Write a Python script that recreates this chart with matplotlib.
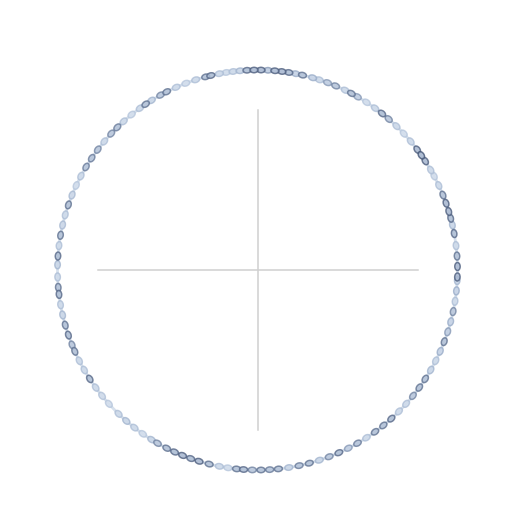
import numpy as np
import matplotlib
matplotlib.use("Agg")
import matplotlib.pyplot as plt
from matplotlib.colors import LinearSegmentedColormap
from matplotlib.patches import Ellipse

# node angles (degrees, counter-clockwise from east) and intensity values
angles = [-2, 1, 4, 7, 10.5, 13, 15, 17, 19.5, 22, 25, 28, 30, 33, 35, 37, 40, 43,
          46, 49, 51.5, 54, 57, 60, 62, 64, 67, 69.5, 72, 74, 77, 79, 81, 83, 85, 87, 89,
          91, 93, 95, 97, 99, 101, 103.5, 105, 108, 111, 114, 117, 119, 122, 124, 126, 129, 132, 134.5,
          137, 140, 143, 146, 149, 152, 155, 158, 161, 164, 167, 170, 173, 176, 178.5,
          182, 185, 187, 190, 193, 196, 199, 202, 204, 207, 210, 213, 216, 219, 222,
          226, 229, 232, 235, 238, 240, 243, 245.5, 248, 250.5, 253, 256, 259, 261.5, 264, 266, 268.5,
          271, 273.5, 276, 279, 282, 285, 288, 291, 294, 297, 300, 303, 306, 309, 312, 315,
          318, 321, 324, 327, 330, 333, 336, 339, 342, 345, 348, 351, 354, 357]
values = [0.9, 0.9, 0.8, 0.3, 0.85, 0.4, 0.85, 0.9, 0.9, 0.8, 0.3, 0.2, 0.3, 0.9, 0.95, 0.9, 0.3, 0.2,
          0.3, 0.7, 0.85, 0.3, 0.2, 0.6, 0.8, 0.3, 0.7, 0.6, 0.3, 0.5, 0.8, 0.5, 0.85, 0.9, 0.9, 0.6, 0.9,
          0.9, 0.85, 0.4, 0.3, 0.2, 0.3, 0.85, 0.8, 0.3, 0.2, 0.3, 0.8, 0.7, 0.4, 0.8, 0.3, 0.2, 0.3, 0.75,
          0.7, 0.3, 0.7, 0.75, 0.75, 0.3, 0.2, 0.35, 0.8, 0.3, 0.35, 0.8, 0.3, 0.85, 0.4,
          0.3, 0.8, 0.85, 0.3, 0.4, 0.8, 0.85, 0.7, 0.8, 0.3, 0.3, 0.85, 0.3, 0.25, 0.2,
          0.3, 0.4, 0.3, 0.2, 0.4, 0.7, 0.8, 0.85, 0.9, 0.85, 0.9, 0.8, 0.3, 0.2, 0.8, 0.85, 0.7,
          0.8, 0.75, 0.8, 0.4, 0.75, 0.8, 0.4, 0.7, 0.85, 0.6, 0.75, 0.3, 0.8, 0.8, 0.85, 0.3,
          0.3, 0.7, 0.8, 0.8, 0.4, 0.3, 0.5, 0.8, 0.6, 0.5, 0.7, 0.3, 0.5, 0.4]

CX, CY, R = 257.5, 270, 200
CROSS = 160

fig = plt.figure(figsize=(5.18, 5.28), dpi=100)
ax = fig.add_axes([0, 0, 1, 1])
ax.set_xlim(0, 518)
ax.set_ylim(528, 0)
ax.axis("off")

# cross
ax.plot([CX - CROSS, CX + CROSS], [CY, CY], color="#d0d0d0", lw=1.1, zorder=1)
ax.plot([CX, CX], [CY - CROSS, CY + CROSS], color="#d0d0d0", lw=1.1, zorder=1)

# base ring
t = np.linspace(0, 2 * np.pi, 400)
ax.plot(CX + R * np.cos(t), CY - R * np.sin(t), color="#d6e0ec", lw=2.0, zorder=2)

edge_cmap = LinearSegmentedColormap.from_list("e", ["#c8d6e8", "#9aadc9", "#3a4b6c"])
face_cmap = LinearSegmentedColormap.from_list("f", ["#dbe5f1", "#c6d3e6", "#a3b3cc"])

a = np.radians(np.array(angles))
v = np.array(values)
xs = CX + R * np.cos(a)
ys = CY - R * np.sin(a)
for i in np.argsort(v):
    rot = -(np.degrees(a[i]) + 90)
    ax.add_patch(Ellipse((xs[i], ys[i]), width=8.0, height=5.4, angle=rot,
                         facecolor=face_cmap(v[i]), edgecolor=edge_cmap(v[i]),
                         lw=1.1, alpha=0.8, zorder=3))

fig.savefig("out.png", dpi=100)
